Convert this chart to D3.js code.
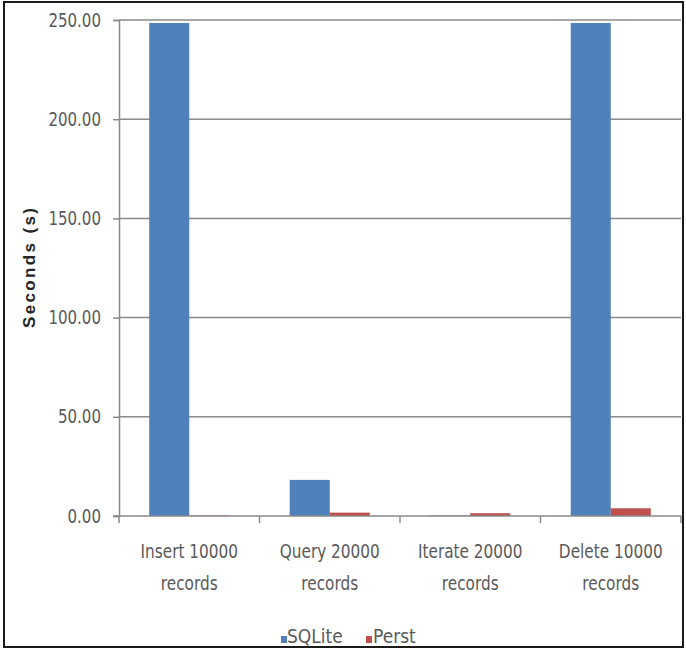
<!DOCTYPE html>
<html>
<head>
<meta charset="utf-8">
<script src="https://cdn.jsdelivr.net/npm/d3@7"></script>
<style>
  html, body { margin: 0; padding: 0; background: #fff; }
  svg { display: block; }
  text { font-family: "Liberation Sans Narrow", "DejaVu Sans Condensed", "Liberation Sans", sans-serif; }
</style>
</head>
<body>
<svg id="chart" width="686" height="651"></svg>
<script>
const categories = [["Insert 10000", "records"], ["Query 20000", "records"], ["Iterate 20000", "records"], ["Delete 10000", "records"]];
const seriesNames = ["SQLite", "Perst"];
const sqliteValues = [248.5, 18.2, 0.3, 248.5];
const perstValues = [0.3, 1.7, 1.4, 3.9];
const yTicks = [0, 50, 100, 150, 200, 250];
const yTitle = "Seconds (s)";
const colors = ["#4F81BD", "#C0504D"];

const svg = d3.select("#chart");
const plotLeft = 119, plotRight = 681, plotTop = 20, plotBottom = 516;

// squeeze text horizontally to mimic a narrow font
function squeeze(sel, f) {
  sel.each(function () {
    const w = this.getComputedTextLength();
    d3.select(this).attr("textLength", w * f).attr("lengthAdjust", "spacingAndGlyphs");
  });
}

// frame
svg.append("rect").attr("x", 4).attr("y", 2).attr("width", 679).attr("height", 645)
  .attr("fill", "#fff").attr("stroke", "#1a1a1a").attr("stroke-width", 2);

const catKeys = categories.map(c => c.join(" "));
const xCat = d3.scaleBand().domain(catKeys).range([plotLeft, plotRight]).padding(0);
const x0 = d3.scaleBand().domain(catKeys).range([plotLeft, plotRight]).paddingInner(0.43).paddingOuter(0.215);
const x1 = d3.scaleBand().domain(seriesNames).range([0, x0.bandwidth()]);
const y = d3.scaleLinear().domain([0, 250]).range([plotBottom, plotTop]);

// gridlines
svg.append("g").selectAll("line").data(yTicks.filter(t => t > 0)).join("line")
  .attr("x1", plotLeft).attr("x2", plotRight).attr("y1", d => y(d)).attr("y2", d => y(d))
  .attr("stroke", "#8a8a8a").attr("stroke-width", 1.5);

// y axis
const yAxis = d3.axisLeft(y).tickValues(yTicks).tickFormat(d3.format(".2f")).tickSize(6).tickPadding(12);
const gy = svg.append("g").attr("transform", `translate(${plotLeft},0)`).call(yAxis);
gy.select(".domain").attr("stroke", "#8a8a8a").attr("stroke-width", 1.5);
gy.selectAll(".tick line").attr("stroke", "#8a8a8a").attr("stroke-width", 1.5);
gy.selectAll(".tick text").attr("fill", "#5a5a5a").style("font-size", "19px")
  .style("font-family", '"Liberation Sans Narrow", "DejaVu Sans Condensed", sans-serif')
  .call(squeeze, 0.88);

// bars
const data = catKeys.map((k, i) => ({ key: k, values: [sqliteValues[i], perstValues[i]] }));
const groups = svg.append("g").selectAll("g").data(data).join("g")
  .attr("transform", d => `translate(${x0(d.key)},0)`);
groups.selectAll("rect").data(d => d.values.map((v, j) => ({ s: seriesNames[j], v, j }))).join("rect")
  .attr("x", d => x1(d.s)).attr("width", x1.bandwidth())
  .attr("y", d => y(d.v)).attr("height", d => y(0) - y(d.v))
  .attr("fill", d => colors[d.j]);

// x axis
svg.append("line").attr("x1", plotLeft - 6).attr("x2", plotRight).attr("y1", plotBottom).attr("y2", plotBottom)
  .attr("stroke", "#8a8a8a").attr("stroke-width", 1.5);
const tickXs = catKeys.map(k => xCat(k)).concat([plotRight]);
svg.append("g").selectAll("line").data(tickXs).join("line")
  .attr("x1", d => d).attr("x2", d => d).attr("y1", plotBottom).attr("y2", plotBottom + 7)
  .attr("stroke", "#8a8a8a").attr("stroke-width", 1.5);

// x labels (one text per line so each can be squeezed)
const cx = i => xCat(catKeys[i]) + xCat.bandwidth() / 2;
const labG = svg.append("g").attr("fill", "#5a5a5a").style("font-size", "20px");
[0, 1].forEach(line => {
  labG.append("g").selectAll("text").data(categories).join("text")
    .attr("text-anchor", "middle")
    .attr("x", (d, i) => cx(i)).attr("y", line === 0 ? 558 : 590)
    .text(d => d[line])
    .call(squeeze, 0.85);
});

// y title
svg.append("text").attr("transform", `translate(35,${(plotTop + plotBottom) / 2}) rotate(-90)`)
  .attr("text-anchor", "middle").attr("fill", "#262626")
  .style("font-size", "17px").style("font-weight", "bold")
  .style("font-family", '"Liberation Sans", sans-serif')
  .attr("textLength", 120).attr("lengthAdjust", "spacing")
  .text(yTitle);

// legend
const legendItems = [{ name: seriesNames[0], x: 281, tx: 287 }, { name: seriesNames[1], x: 366, tx: 373 }];
const lg = svg.append("g");
legendItems.forEach((d, i) => {
  lg.append("rect").attr("x", d.x).attr("y", 636).attr("width", 6).attr("height", 7).attr("fill", colors[i]);
  lg.append("text").attr("x", d.tx).attr("y", 643).attr("fill", "#5a5a5a").style("font-size", "20px").text(d.name)
    .call(squeeze, 0.95);
});
</script>
</body>
</html>
